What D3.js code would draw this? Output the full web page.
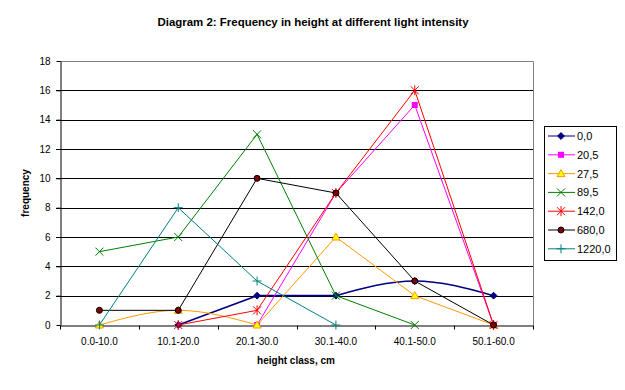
<!DOCTYPE html>
<html>
<head>
<meta charset="utf-8">
<script src="https://cdn.jsdelivr.net/npm/d3@7"></script>
<style>
body { margin: 0; background: #fff; }
text { font-family: "Liberation Sans", Arial, sans-serif; }
</style>
</head>
<body>
<div id="chart"></div>
<script>
// data
let categories = ["0.0-10.0", "10.1-20.0", "20.1-30.0", "30.1-40.0", "40.1-50.0", "50.1-60.0"];
let yTicks = [0, 2, 4, 6, 8, 10, 12, 14, 16, 18];
let seriesNames = ["0,0", "20,5", "27,5", "89,5", "142,0", "680,0", "1220,0"];
let light0 = [null, 0, 2, 2, 3, 2];
let light205 = [null, null, 0, 9, 15, 0];
let light275 = [0, 1, 0, 6, 2, 0];
let light895 = [5, 6, 13, 2, 0, null];
let light1420 = [null, 0, 1, 9, 16, 0];
let light6800 = [1, 1, 10, 9, 3, 0];
let light12200 = [0, 8, 3, 0, null, null];

let seriesValues = [light0, light205, light275, light895, light1420, light6800, light12200];
// smooth: [first, last] category index of the part drawn as a smoothed line
let styles = [
	{ line: "#000080", marker: "diamond", fill: "#000080", stroke: "#000080", width: 1.6, smooth: [3, 5] },
	{ line: "#FF00FF", marker: "square", fill: "#FF00FF", stroke: "#FF00FF", width: 1 },
	{ line: "#FF9900", marker: "triangle", fill: "#FFFF00", stroke: "#FF9900", width: 1, smooth: [0, 2] },
	{ line: "#008000", marker: "x", fill: "none", stroke: "#008000", width: 1 },
	{ line: "#FF0000", marker: "star", fill: "none", stroke: "#FF0000", width: 1 },
	{ line: "#000000", marker: "circle", fill: "#800000", stroke: "#000000", width: 1 },
	{ line: "#008080", marker: "plus", fill: "none", stroke: "#008080", width: 1 }
];

let width = 625, height = 390;
let plot = { left: 60, right: 533, top: 61, bottom: 325 };

let svg = d3.select("#chart")
	.append("svg")
	.attr("width", width)
	.attr("height", height);

let xScale = d3.scaleBand().domain(categories).range([plot.left, plot.right]);
let yScale = d3.scaleLinear().domain([0, 18]).range([plot.bottom, plot.top]);

// gridlines
svg.append("g")
	.selectAll("line")
	.data(yTicks.filter(d => d > 0 && d < 18))
	.join("line")
	.attr("x1", plot.left - 4)
	.attr("x2", plot.right)
	.attr("y1", d => Math.round(yScale(d)) + 0.5)
	.attr("y2", d => Math.round(yScale(d)) + 0.5)
	.attr("stroke", "#000")
	.attr("stroke-width", 1);

// plot area border (top and right, gray)
svg.append("path")
	.attr("d", `M${plot.left},${plot.top + 0.5}H${plot.right + 0.5}V${plot.bottom}`)
	.attr("fill", "none")
	.attr("stroke", "#808080");

// y axis
let yAxis = svg.append("g")
	.attr("transform", `translate(${plot.left + 0.5},0)`)
	.call(d3.axisLeft(yScale).tickValues(yTicks).tickSize(4).tickPadding(6).tickSizeOuter(0));
yAxis.selectAll("line").attr("stroke", "#000");
yAxis.select(".domain").attr("stroke", "#000");
yAxis.selectAll("text").attr("font-size", 10).attr("fill", "#000");

// x axis
let xAxis = svg.append("g")
	.attr("transform", `translate(0,${plot.bottom + 0.5})`)
	.call(d3.axisBottom(xScale).tickSize(0).tickPadding(12));
xAxis.select(".domain").attr("stroke", "#000");
xAxis.selectAll("text").attr("font-size", 10).attr("fill", "#000");
// tick marks between categories
xAxis.append("g")
	.selectAll("line")
	.data(d3.range(categories.length + 1))
	.join("line")
	.attr("x1", i => Math.round(plot.left + i * xScale.step()) + 0.5)
	.attr("x2", i => Math.round(plot.left + i * xScale.step()) + 0.5)
	.attr("y1", 0)
	.attr("y2", 4)
	.attr("stroke", "#000");

function xPos(i) {
	return xScale(categories[i]) + xScale.bandwidth() / 2;
}

function drawMarker(g, type, fill, stroke) {
	if (type === "diamond") {
		g.append("path").attr("d", d3.symbol(d3.symbolDiamond2, 30)()).attr("fill", fill).attr("stroke", stroke);
	} else if (type === "square") {
		g.append("rect").attr("x", -3).attr("y", -3).attr("width", 6).attr("height", 6).attr("fill", fill);
	} else if (type === "triangle") {
		g.append("path").attr("d", "M0,-4L4,3L-4,3Z").attr("fill", fill).attr("stroke", stroke);
	} else if (type === "x") {
		g.append("path").attr("d", "M-4,-4L4,4M-4,4L4,-4").attr("stroke", stroke);
	} else if (type === "star") {
		g.append("path").attr("d", "M-4,-4L4,4M-4,4L4,-4M0,-5V5").attr("stroke", stroke);
	} else if (type === "circle") {
		g.append("circle").attr("r", 3).attr("fill", fill).attr("stroke", stroke);
	} else if (type === "plus") {
		g.append("path").attr("d", "M-4.5,0H4.5M0,-4.5V4.5").attr("stroke", stroke);
	}
}

let smoothLine = d3.line().x(d => xPos(d.i)).y(d => yScale(d.v)).curve(d3.curveMonotoneX);
let straightLine = d3.line().x(d => xPos(d.i)).y(d => yScale(d.v));

// series
seriesValues.forEach((values, si) => {
	let st = styles[si];
	let pts = values.map((v, i) => ({ i: i, v: v })).filter(d => d.v !== null);
	let g = svg.append("g");
	let parts = [];
	if (st.smooth) {
		let [a, b] = st.smooth;
		parts.push([straightLine, pts.filter(d => d.i <= a)]);
		parts.push([smoothLine, pts.filter(d => d.i >= a && d.i <= b)]);
		parts.push([straightLine, pts.filter(d => d.i >= b)]);
	} else {
		parts.push([straightLine, pts]);
	}
	parts.forEach(p => {
		if (p[1].length < 2) return;
		g.append("path")
			.datum(p[1])
			.attr("d", p[0])
			.attr("fill", "none")
			.attr("stroke", st.line)
			.attr("stroke-width", st.width);
	});
	pts.forEach(d => {
		let m = g.append("g").attr("transform", `translate(${xPos(d.i)},${yScale(d.v)})`);
		drawMarker(m, st.marker, st.fill, st.stroke);
	});
});

// legend
let legend = svg.append("g");
legend.append("rect")
	.attr("x", 544.5).attr("y", 126.5)
	.attr("width", 72).attr("height", 134)
	.attr("fill", "#fff").attr("stroke", "#000");
seriesNames.forEach((name, i) => {
	let st = styles[i];
	let y = 136 + i * 18.8;
	legend.append("line")
		.attr("x1", 548).attr("x2", 575)
		.attr("y1", y).attr("y2", y)
		.attr("stroke", st.line)
		.attr("stroke-width", 1);
	let m = legend.append("g").attr("transform", `translate(561,${y})`);
	drawMarker(m, st.marker, st.fill, st.stroke);
	legend.append("text")
		.attr("x", 577).attr("y", y + 4)
		.attr("font-size", 11)
		.text(name);
});

// titles
svg.append("text")
	.attr("x", 313).attr("y", 26)
	.attr("text-anchor", "middle")
	.attr("font-size", 11)
	.attr("font-weight", "bold")
	.attr("textLength", 311)
	.attr("lengthAdjust", "spacingAndGlyphs")
	.text("Diagram 2: Frequency in height at different light intensity");

svg.append("text")
	.attr("x", 296).attr("y", 364)
	.attr("text-anchor", "middle")
	.attr("font-size", 10)
	.attr("font-weight", "bold")
	.text("height class, cm");

svg.append("text")
	.attr("transform", "translate(29,193) rotate(-90)")
	.attr("text-anchor", "middle")
	.attr("font-size", 10)
	.attr("font-weight", "bold")
	.text("frequency");
</script>
</body>
</html>
